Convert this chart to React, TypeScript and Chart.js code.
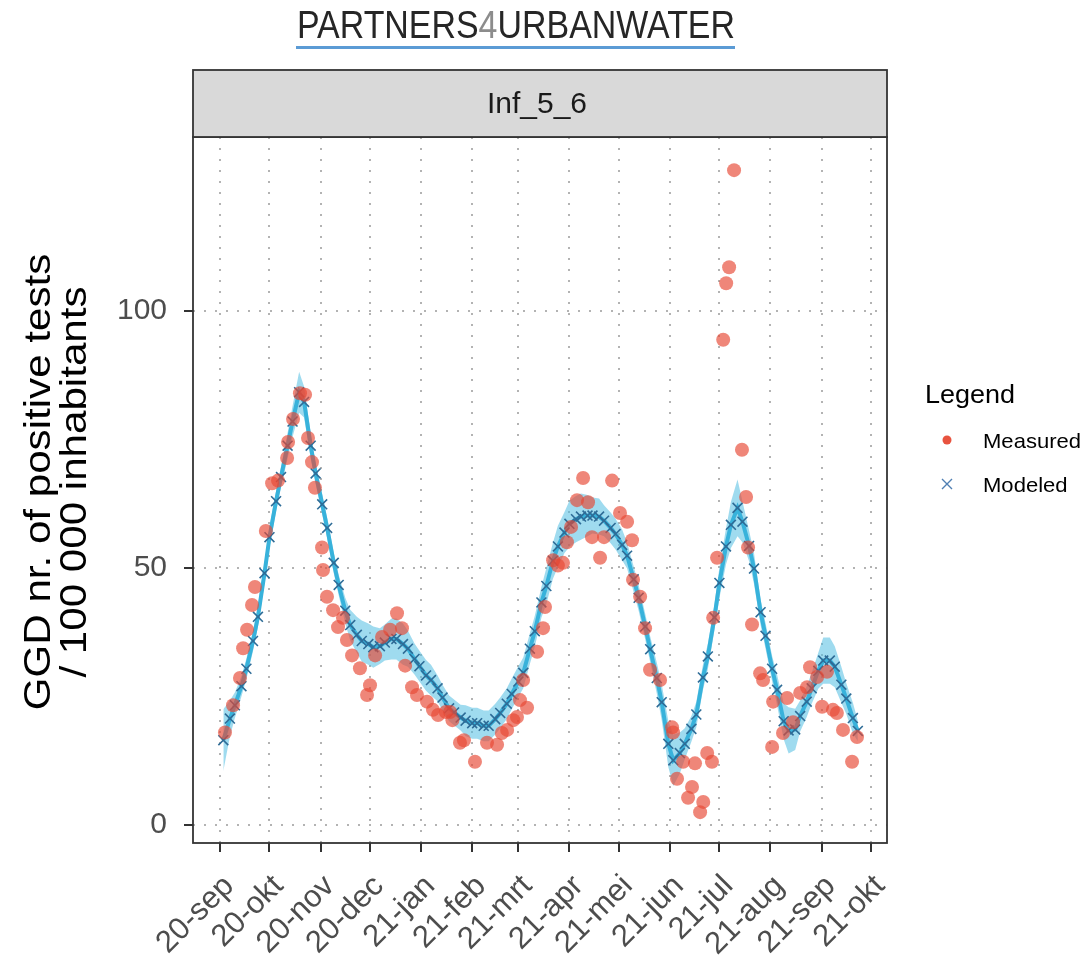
import React, { useEffect, useRef } from 'react';
import { Chart, registerables } from 'chart.js';

Chart.register(...registerables);

const W = 1083;
const H = 959;

// Month ticks (days since 2020-09-01)
const monthDays = [0, 30, 61, 91, 122, 153, 181, 212, 242, 273, 303, 334, 365, 395];
const monthLabels = ['20-sep', '20-okt', '20-nov', '20-dec', '21-jan', '21-feb', '21-mrt', '21-apr', '21-mei', '21-jun', '21-jul', '21-aug', '21-sep', '21-okt'];
const yTicks = [0, 50, 100];

// Modeled series (days since 2020-09-01)
const modeledDays = [
  2, 6, 9, 13, 16, 20, 23, 27, 30, 34,
  37, 41, 44, 48, 51, 55, 58, 62, 65, 69,
  72, 76, 79, 83, 86, 90, 93, 97, 100, 104,
  107, 111, 114, 118, 121, 125, 128, 132, 135, 139,
  142, 146, 149, 153, 156, 160, 163, 167, 170, 174,
  177, 181, 184, 188, 191, 195, 198, 202, 205, 209,
  212, 216, 219, 223, 226, 230, 233, 237, 240, 244,
  247, 251, 254, 258, 261, 265, 268, 272, 275, 279,
  282, 286, 289, 293, 296, 300, 303, 307, 310, 314,
  317, 321, 324, 328, 331, 335, 338, 342, 345, 349,
  352, 356, 359, 363, 366, 370, 373, 377, 380, 384,
  387,
];
const modeledValues = [
  16.5, 20.7, 23.3, 27, 30.4, 35.8, 40.5, 49, 56, 63,
  67.7, 73.8, 78.5, 84.2, 82.3, 73.8, 68.4, 62.4, 57.8, 51,
  46.7, 41.7, 38.9, 37, 35.8, 35.2, 34.6, 34.8, 35.5, 36.2,
  36.2, 35.2, 34.3, 32.3, 30.9, 29.1, 28.2, 26.6, 24.8, 22.7,
  21.9, 20.9, 20.3, 19.8, 19.8, 19.3, 19.3, 20.6, 21.8, 23.6,
  25.5, 27.9, 29.6, 34.3, 37.7, 43.3, 46.5, 51.4, 54.2, 56.9,
  58.6, 59.5, 60, 60.2, 60.2, 60, 59.2, 57.8, 56.6, 54.5,
  52.4, 47.8, 44.2, 38.6, 34.2, 28.6, 23.9, 15.8, 12.6, 14,
  15.8, 18.7, 21.5, 28.7, 32.8, 40.4, 47.1, 54.2, 58.4, 61.7,
  59, 54.3, 49.9, 41.4, 36.8, 30.4, 26.3, 20.2, 18.4, 18.6,
  21.2, 24, 26.6, 30, 32, 32, 30.8, 27.3, 24.6, 20.8,
  18.3,
];
// Half-width of the modeled uncertainty band
const bandHalfWidth = [
  6, 3.5, 2.5, 2, 2, 2, 2, 2, 2, 2,
  2, 2.5, 3, 4, 3, 2.5, 2, 2, 2, 2,
  2, 2.5, 3, 3.5, 4, 4, 4, 3.5, 3.5, 4,
  4, 4, 3.5, 3, 3, 3, 3, 2.5, 2.5, 2.5,
  2.5, 2.5, 3, 3, 3, 3, 3, 3, 3, 3,
  3, 3, 3, 3, 3, 3, 3.5, 3.5, 4, 4,
  4.5, 4.5, 4.5, 4, 3.5, 3.5, 3, 3, 3, 3,
  2.5, 2.5, 2.5, 2.5, 2.5, 3, 3.5, 4.5, 5, 4,
  3, 2.5, 2.5, 2.5, 2.5, 2.5, 3, 3.5, 4.5, 5.5,
  4, 3, 3, 2.5, 2.5, 2.5, 3, 3.5, 4.5, 4,
  3, 3, 3, 3.5, 4.5, 4.5, 4, 3.5, 3, 3,
  2,
];

// Measured series
const measuredDays = [
  3, 7.9, 12.1, 14, 16.4, 19.4, 21.2, 27.8, 31.6, 35.2,
  40.7, 41.3, 44.3, 48.5, 51.6, 53.4, 55.8, 57.6, 61.9, 62.5,
  64.9, 68.6, 71.6, 74.6, 77, 80.1, 84.9, 89.2, 91, 94.1,
  98.3, 103.2, 107.4, 110.4, 112.3, 116.5, 119.5, 125.6, 129.2, 132.3,
  137, 139.6, 141, 145.6, 148, 154.7, 162, 168.1, 171, 174.2,
  178, 180.2, 182, 183.9, 186.3, 192.4, 196, 197.2, 202.1, 205,
  208.1, 210.5, 213, 216.6, 220.3, 223.3, 225.7, 230.6, 233, 237.9,
  242.7, 247, 250, 250.6, 254.9, 257.9, 260.9, 267, 274.3, 274.9,
  277.3, 281, 284, 286.4, 288.2, 291.3, 293.2, 295.6, 298.5, 299.2,
  301.6, 305.3, 307.1, 308.9, 311.9, 316.7, 319.2, 320.4, 322.8, 327.7,
  329.5, 335, 335.6, 341.6, 344.1, 347.7, 352, 356.2, 358, 362.3,
  365.3, 368.3, 371.9, 374.3, 378, 383.5, 386.5,
];
const measuredValues = [
  18, 23.3, 28.6, 34.4, 38, 42.8, 46.3, 57.2, 66.5, 67,
  71.4, 74.5, 79, 84, 83.7, 75.3, 70.6, 65.6, 54, 49.6,
  44.4, 41.8, 38.5, 40.3, 36, 33, 30.5, 25.3, 27.2, 33,
  36.6, 38, 41.2, 38.3, 31, 26.8, 25.3, 24, 22.4, 21.4,
  22, 22, 20.4, 16, 16.5, 12.3, 16, 15.6, 17.9, 18.5,
  20.4, 21, 24.3, 28.2, 22.8, 33.7, 38.3, 42.4, 51.5, 50.5,
  51, 55, 58, 63.2, 67.5, 62.8, 56, 52, 56, 67,
  60.7, 59, 55.4, 47.7, 44.4, 38.3, 30.2, 28.2, 19, 18,
  9, 12.3, 5.3, 7.4, 12, 2.5, 4.5, 14, 12.3, 40.3,
  52, 94.4, 105.4, 108.5, 127.4, 73, 63.8, 54, 39, 29.5,
  28.2, 15.2, 24, 17.9, 24.7, 20, 25.7, 26.8, 30.7, 28.8,
  23, 29.8, 22.4, 21.8, 18.5, 12.3, 17.1,
];

const FONT = '"Liberation Sans", Arial, Helvetica, sans-serif';

const decorPlugin = {
  id: 'decor',
  beforeDraw(chart: any) {
    const { ctx } = chart;
    ctx.save();
    ctx.fillStyle = '#ffffff';
    ctx.fillRect(0, 0, chart.width, chart.height);
    ctx.restore();
  },
  afterDraw(chart: any) {
    const { ctx, chartArea: a } = chart;
    ctx.save();

    // panel border
    ctx.strokeStyle = '#333333';
    ctx.lineWidth = 1.8;
    ctx.strokeRect(a.left, a.top, a.right - a.left, a.bottom - a.top);

    // facet strip
    const stripTop = 70;
    ctx.fillStyle = '#d9d9d9';
    ctx.fillRect(a.left, stripTop, a.right - a.left, a.top - stripTop);
    ctx.strokeRect(a.left, stripTop, a.right - a.left, a.top - stripTop);
    ctx.fillStyle = '#1a1a1a';
    ctx.font = `30px ${FONT}`;
    ctx.textAlign = 'center';
    ctx.textBaseline = 'middle';
    ctx.fillText('Inf_5_6', (a.left + a.right) / 2 - 3, (stripTop + a.top) / 2 + 1);

    // header logo text
    ctx.font = `39px ${FONT}`;
    ctx.textAlign = 'left';
    ctx.textBaseline = 'alphabetic';
    const p1 = 'PARTNERS', p2 = '4', p3 = 'URBANWATER';
    const w1 = ctx.measureText(p1).width, w2 = ctx.measureText(p2).width, w3 = ctx.measureText(p3).width;
    const total = w1 + w2 + w3;
    const sx = 438 / total;
    ctx.save();
    ctx.translate(297, 38);
    ctx.scale(sx, 1);
    ctx.fillStyle = '#262626';
    ctx.fillText(p1, 0, 0);
    ctx.fillStyle = '#8c8c8c';
    ctx.fillText(p2, w1, 0);
    ctx.fillStyle = '#262626';
    ctx.fillText(p3, w1 + w2, 0);
    ctx.restore();
    ctx.fillStyle = '#5b9bd5';
    ctx.fillRect(296, 46, 439, 3);

    // y axis title
    ctx.save();
    ctx.translate(50, 482);
    ctx.rotate(-Math.PI / 2);
    ctx.scale(1.17, 1);
    ctx.fillStyle = '#000000';
    ctx.font = `36px ${FONT}`;
    ctx.textAlign = 'center';
    ctx.textBaseline = 'alphabetic';
    ctx.fillText('GGD nr. of positive tests', 0, 0);
    ctx.fillText('/ 100 000 inhabitants', 0, 36);
    ctx.restore();

    // legend
    ctx.fillStyle = '#000000';
    ctx.textAlign = 'left';
    ctx.textBaseline = 'alphabetic';
    ctx.save();
    ctx.translate(925, 403);
    ctx.scale(1.08, 1);
    ctx.font = `25px ${FONT}`;
    ctx.fillText('Legend', 0, 0);
    ctx.restore();

    ctx.save();
    ctx.font = `21px ${FONT}`;
    ctx.translate(983, 448);
    ctx.scale(1.05, 1);
    ctx.fillText('Measured', 0, 0);
    ctx.fillText('Modeled', 0, 44);
    ctx.restore();

    ctx.fillStyle = '#e8533f';
    ctx.beginPath();
    ctx.arc(947, 440, 4.5, 0, Math.PI * 2);
    ctx.fill();

    ctx.strokeStyle = '#4f7fb3';
    ctx.lineWidth = 1.4;
    ctx.beginPath();
    ctx.moveTo(942, 479); ctx.lineTo(952, 489);
    ctx.moveTo(952, 479); ctx.lineTo(942, 489);
    ctx.stroke();

    ctx.restore();
  },
};

export default function App() {
  const ref = useRef<HTMLCanvasElement>(null);

  useEffect(() => {
    const canvas = ref.current;
    if (!canvas) return;

    const modeled = modeledDays.map((d, i) => ({ x: d, y: modeledValues[i] }));
    const upper = modeledDays.map((d, i) => ({ x: d, y: modeledValues[i] + bandHalfWidth[i] }));
    const lower = modeledDays.map((d, i) => ({ x: d, y: modeledValues[i] - bandHalfWidth[i] }));
    const measured = measuredDays.map((d, i) => ({ x: d, y: measuredValues[i] }));

    const gridCommon = {
      color: '#b3b3b3',
      lineWidth: 2,
      drawTicks: true,
      tickLength: 9,
      tickColor: '#333333',
      tickWidth: 2,
      tickBorderDash: [],
    };

    const chart = new Chart(canvas, {
      type: 'line',
      data: {
        datasets: [
          {
            label: 'Measured',
            data: measured,
            showLine: false,
            pointStyle: 'circle',
            pointRadius: 7,
            pointBackgroundColor: 'rgba(230, 72, 52, 0.66)',
            pointBorderWidth: 0,
            order: 0,
          } as any,
          {
            label: 'Modeled',
            data: modeled,
            borderColor: '#38b2db',
            borderWidth: 4,
            tension: 0,
            fill: false,
            pointStyle: 'crossRot',
            pointRadius: 7,
            pointBorderColor: '#2e6c97',
            pointBorderWidth: 1.6,
            order: 1,
          },
          {
            label: 'upper',
            data: upper,
            borderColor: 'transparent',
            borderWidth: 0,
            pointRadius: 0,
            tension: 0,
            fill: '+1',
            backgroundColor: 'rgba(80, 190, 225, 0.55)',
            order: 2,
          },
          {
            label: 'lower',
            data: lower,
            borderColor: 'transparent',
            borderWidth: 0,
            pointRadius: 0,
            tension: 0,
            fill: false,
            order: 3,
          },
        ],
      },
      options: {
        responsive: false,
        animation: false,
        devicePixelRatio: 1,
        layout: { padding: { left: 0, top: 137, right: 196, bottom: 0 } },
        plugins: {
          legend: { display: false },
          tooltip: { enabled: false },
        },
        scales: {
          x: {
            type: 'linear',
            min: -16.4,
            max: 404.7,
            afterBuildTicks: (s: any) => {
              s.ticks = monthDays.map((v) => ({ value: v }));
            },
            afterFit: (s: any) => {
              s.height = 116;
            },
            ticks: {
              autoSkip: false,
              minRotation: 45,
              maxRotation: 45,
              callback: (_v: any, i: number) => monthLabels[i],
              font: { family: FONT, size: 31 },
              color: '#4d4d4d',
              padding: 16,
              labelOffset: 9,
            },
            grid: gridCommon,
            border: { display: false, dash: [2, 9] },
          },
          y: {
            type: 'linear',
            min: -3.5,
            max: 133.85,
            afterBuildTicks: (s: any) => {
              s.ticks = yTicks.map((v) => ({ value: v }));
            },
            afterFit: (s: any) => {
              s.width = 193;
            },
            ticks: {
              font: { family: FONT, size: 30 },
              color: '#4d4d4d',
              padding: 17,
            },
            grid: gridCommon,
            border: { display: false, dash: [2, 9] },
          },
        },
      } as any,
      plugins: [decorPlugin],
    });

    return () => chart.destroy();
  }, []);

  return (
    <div style={{ position: 'fixed', left: 0, top: 0, width: W, height: H, background: '#ffffff' }}>
      <canvas ref={ref} width={W} height={H} style={{ width: W, height: H, display: 'block' }} />
    </div>
  );
}
